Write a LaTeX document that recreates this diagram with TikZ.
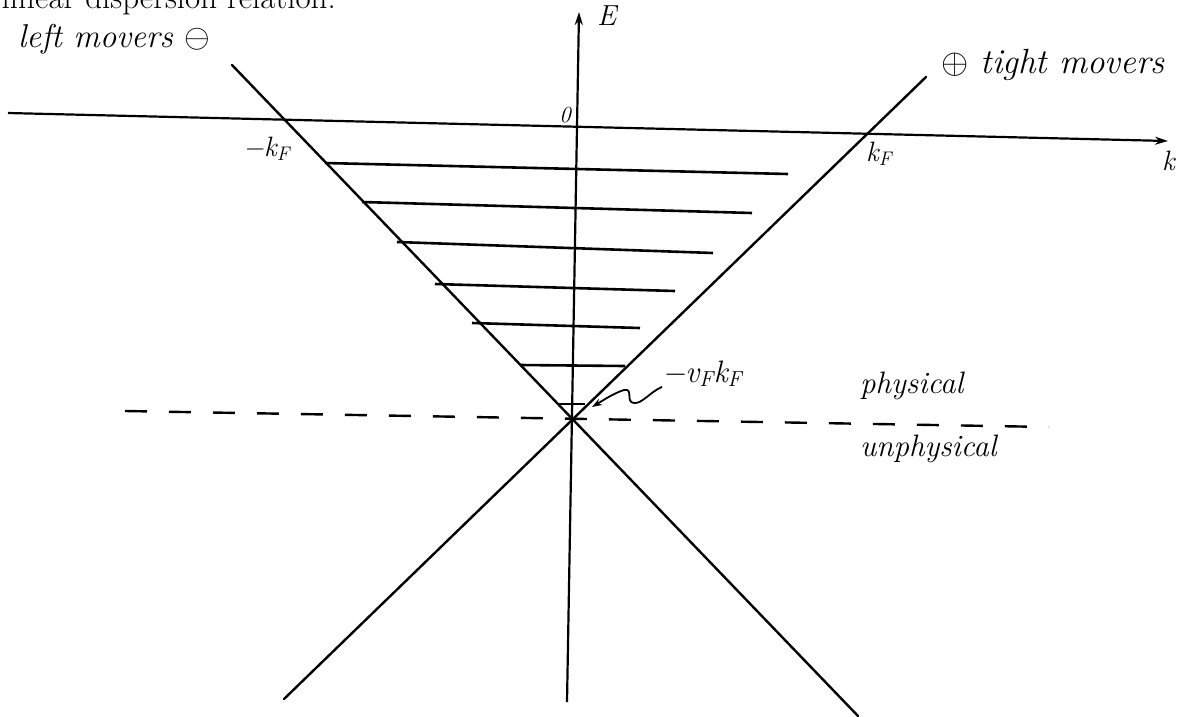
\RequirePackage{fix-cm}
\documentclass[tikz,border=0pt]{standalone}
\usetikzlibrary{arrows.meta}
\newcommand{\sub}[1]{\textsubscript{\itshape #1}}
\begin{document}
\begin{tikzpicture}[x=1pt,y=-1pt,
  axis/.style={line width=2.2pt,-{Stealth[length=13pt,width=8pt]}},
  cone/.style={line width=2.4pt,line cap=round},
  fermi/.style={line width=2.6pt},
  cut/.style={line width=2.4pt,dash pattern=on 22pt off 22pt},
  hand/.style={inner sep=0pt,font=\fontsize{31}{36}\selectfont\itshape},
  mlabel/.style={inner sep=0pt,font=\fontsize{28}{32}\selectfont\itshape},
  squiggle/.style={line width=1.8pt,-{Stealth[length=10pt,width=7pt]}}]
\useasboundingbox (0,0) rectangle (1178,716);
\fill[white] (0,0) rectangle (1178,716);

% printed caption, cut by the page edge
\node[inner sep=0pt,anchor=base east,font=\fontsize{33}{40}\selectfont] (title) at (336,8) {linear dispersion relation.};

% axes
\coordinate (kL) at (8,113);
\coordinate (kR) at (1168,141);
\coordinate (EB) at (567,702);
\coordinate (ET) at (579,12);
\draw[axis] (kL) -- (kR);
\draw[axis] (EB) -- (ET);

% dispersion lines
\coordinate (LT) at (232,65);
\coordinate (LB) at (858,716);
\coordinate (RT) at (926,77);
\coordinate (RB) at (284,699);
\draw[cone] (LT) -- (LB);
\draw[cone] (RT) -- (RB);

% filled states
\foreach \xa/\ya/\xb/\yb in {325/163/788/174, 362/202/752/213, 397/242/713/253,
  435/284/675/291, 472/323/640/328, 520/365/625/366, 558/404/585/404}
  \draw[fermi] (\xa,\ya) -- (\xb,\yb);

% physical / unphysical border
\coordinate (dL) at (125,411);
\coordinate (dR) at (1049,427);
\draw[cut] (dL) -- (dR);

% labels
\node[hand,anchor=base west,font=\fontsize{33}{38}\selectfont\itshape] (left) at (18,47) {left movers $\ominus$};
\node[hand,anchor=base west,font=\fontsize{35}{40}\selectfont\itshape] (right) at (941,73) {$\oplus$ tight movers};
\node[mlabel,anchor=base west,font=\fontsize{29}{34}\selectfont\itshape] (E) at (597,25) {E};
\node[mlabel,anchor=center,font=\fontsize{23}{28}\selectfont\itshape] (zero) at (565,115) {0};
\node[mlabel,anchor=base west] (mkF) at (243,156) {−k\sub{F}};
\node[mlabel,anchor=base west] (kF) at (866,161) {k\sub{F}};
\node[mlabel,anchor=base west] (k) at (1162,170) {k};
\node[mlabel,anchor=base west,font=\fontsize{31}{36}\selectfont\itshape] (vk) at (662,382) {−v\sub{F}k\sub{F}};
\node[hand,anchor=base west] (phys) at (860,393) {physical};
\node[hand,anchor=base west] (unphys) at (860,456) {unphysical};

% pointer to the bottom of the band
\coordinate (tip) at (592,407);
\draw[squiggle] (vk.south west) .. controls (650,392) and (642,404) .. (634,403)
  .. controls (625,402) and (634,388) .. (624,390)
  .. controls (614,393) and (602,401) .. (tip);
\end{tikzpicture}
\end{document}
